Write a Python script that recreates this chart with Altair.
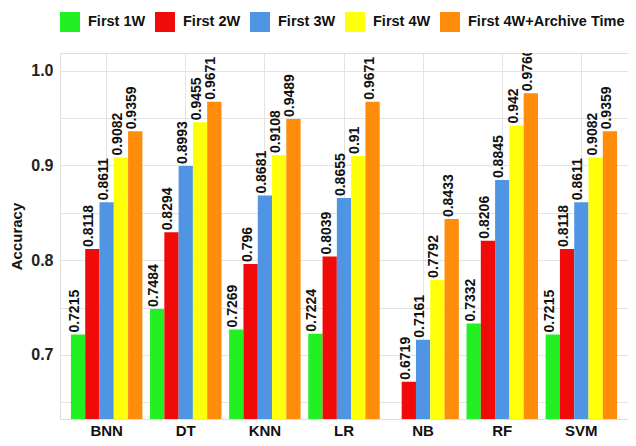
import altair as alt
import pandas as pd

models = ["BNN", "DT", "KNN", "LR", "NB", "RF", "SVM"]
series = ["First 1W", "First 2W", "First 3W", "First 4W", "First 4W+Archive Time"]
colors = ["#22f022", "#f00a0a", "#4f95e3", "#ffff0a", "#ff8c0a"]

first_1w = [0.7215, 0.7484, 0.7269, 0.7224, None, 0.7332, 0.7215]
first_2w = [0.8118, 0.8294, 0.7960, 0.8039, 0.6719, 0.8206, 0.8118]
first_3w = [0.8611, 0.8993, 0.8681, 0.8655, 0.7161, 0.8845, 0.8611]
first_4w = [0.9082, 0.9455, 0.9108, 0.9100, 0.7792, 0.9420, 0.9082]
first_4w_arch = [0.9359, 0.9671, 0.9489, 0.9671, 0.8433, 0.9760, 0.9359]

labels_1w = ["0.7215", "0.7484", "0.7269", "0.7224", None, "0.7332", "0.7215"]
labels_2w = ["0.8118", "0.8294", "0.796", "0.8039", "0.6719", "0.8206", "0.8118"]
labels_3w = ["0.8611", "0.8993", "0.8681", "0.8655", "0.7161", "0.8845", "0.8611"]
labels_4w = ["0.9082", "0.9455", "0.9108", "0.91", "0.7792", "0.942", "0.9082"]
labels_4w_arch = ["0.9359", "0.9671", "0.9489", "0.9671", "0.8433", "0.9760", "0.9359"]

y_ticks = [0.65, 0.70, 0.75, 0.80, 0.85, 0.90, 0.95, 1.00]

rows = []
for s, vals, labs in zip(series,
                         [first_1w, first_2w, first_3w, first_4w, first_4w_arch],
                         [labels_1w, labels_2w, labels_3w, labels_4w, labels_4w_arch]):
    for m, v, l in zip(models, vals, labs):
        if v is not None:
            rows.append({"model": m, "series": s, "value": v, "label": l})
df = pd.DataFrame(rows)

W, H = 568, 366
FONT = "Liberation Sans"
YDOM = [0.6325, 1.0185]

x = alt.X("model:N", sort=models,
          scale=alt.Scale(paddingInner=0.097, paddingOuter=0.138),
          axis=alt.Axis(title=None, labelAngle=0, labelFontWeight="bold", labelFontSize=15,
                        labelColor="#111", labelPadding=4, ticks=False, domain=False,
                        grid=True, gridColor="#e3e3e3", bandPosition=0.5, labelFont=FONT))
xo = alt.XOffset("series:N", sort=series, scale=alt.Scale(paddingInner=0, paddingOuter=0))
y = alt.Y("value:Q",
          scale=alt.Scale(domain=YDOM, zero=False, nice=False),
          axis=alt.Axis(title="Accuracy", values=y_ticks,
                        labelExpr="abs(datum.value*10 - round(datum.value*10)) < 0.01 ? format(datum.value, '.1f') : ''",
                        labelFontWeight="bold", labelFontSize=16, labelColor="#222", labelPadding=7,
                        titleFontWeight="bold", titleFontSize=15, titleColor="#111", titlePadding=6,
                        ticks=False, domain=False, grid=True, gridColor="#e3e3e3",
                        labelFont=FONT, titleFont=FONT))

bars = alt.Chart(df).mark_bar(clip=True).encode(
    x=x, xOffset=xo, y=y, y2=alt.value(H),
    color=alt.Color("series:N", sort=series,
                    scale=alt.Scale(domain=series, range=colors),
                    legend=alt.Legend(title=None, orient="none", legendX=0, legendY=-41,
                                      direction="horizontal", columns=5,
                                      symbolType="square", symbolSize=400, symbolStrokeWidth=0,
                                      labelFont=FONT, labelFontSize=14.5, labelFontWeight="bold",
                                      labelColor="#111", labelOffset=8, columnPadding=9,
                                      labelLimit=0, padding=0, symbolOpacity=1)),
)

texts = alt.Chart(df).mark_text(angle=270, align="left", baseline="middle", dx=2, dy=-3,
                                fontSize=14, fontWeight="bold", font=FONT, color="#111",
                                clip=True).encode(
    x=x, xOffset=xo, y=alt.Y("value:Q", scale=alt.Scale(domain=YDOM, zero=False, nice=False)),
    text="label:N",
)

chart = alt.layer(bars, texts).properties(
    width=W, height=H,
    autosize=alt.AutoSizeParams(type="none"),
    padding={"left": 52, "top": 45, "right": 0, "bottom": 19},
).configure_view(stroke=None).configure(background="white")

chart.save("out.html", embed_options={"renderer": "svg", "actions": False})
